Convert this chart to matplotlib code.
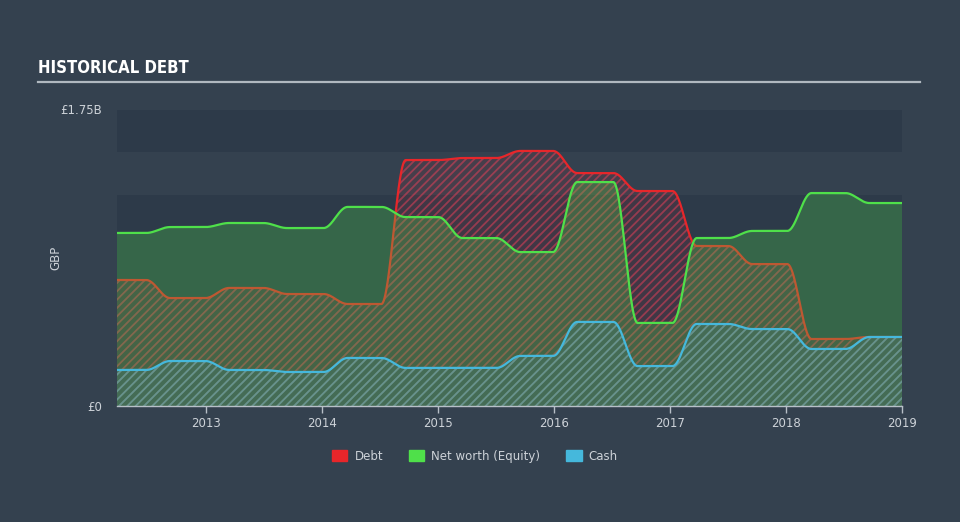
import numpy as np
import matplotlib.pyplot as plt

# half-yearly report dates (decimal years) and values in GBP billions
dates = [2012.23, 2012.69, 2013.20, 2013.70, 2014.22, 2014.72, 2015.21,
         2015.71, 2016.20, 2016.72, 2017.23, 2017.71, 2018.22, 2018.72]
end_date = 2019.0
debt = [0.745, 0.638, 0.698, 0.662, 0.603, 1.454, 1.466,
        1.508, 1.377, 1.271, 0.946, 0.839, 0.396, 0.408]
equity = [1.023, 1.058, 1.082, 1.052, 1.177, 1.117, 0.993,
          0.910, 1.324, 0.491, 0.993, 1.035, 1.259, 1.200]
cash = [0.213, 0.266, 0.213, 0.201, 0.284, 0.225, 0.225,
        0.296, 0.497, 0.236, 0.485, 0.455, 0.337, 0.408]
years = [2013, 2014, 2015, 2016, 2017, 2018, 2019]

bg = "#34414f"
plot_bg = "#2d3a49"
red = "#e8262a"
green = "#4fe04a"
blue = "#45b8dc"
txt = "#cdd2d8"


def smooth(d, v, end, w=0.21):
    # hold each value, ease into the next one just before its date
    t = np.linspace(d[0], end, 3000)
    y = np.full_like(t, v[0])
    for i in range(1, len(d)):
        s = np.clip((t - (d[i] - w)) / w, 0, 1)
        y = y + (v[i] - v[i-1]) * (1 - np.cos(np.pi*s)) / 2
    return t, y


plt.rcParams['hatch.linewidth'] = 1.3

fig = plt.figure(figsize=(9.6, 5.22), dpi=100, facecolor=bg)
ax = fig.add_axes([117/960, 116/522, 785/960, 296/522])
ax.set_facecolor(plot_bg)
ax.set_xlim(dates[0], end_date)
ax.set_ylim(0, 1.75)
ax.axhspan(1.25, 1.5, color=bg, lw=0, zorder=0)

td, yd = smooth(dates, debt, end_date)
te, ye = smooth(dates, equity, end_date)
tc, yc = smooth(dates, cash, end_date)

ax.fill_between(td, 0, yd, facecolor=(0.91, 0.15, 0.16, 0.10),
                edgecolor=(0.88, 0.25, 0.35, 0.55), hatch="////", lw=0, zorder=2)
ax.plot(td, yd, color=red, lw=1.6, zorder=3)
ax.fill_between(te, 0, ye, facecolor=(0.31, 0.88, 0.29, 0.27), lw=0, zorder=4)
ax.plot(te, ye, color=green, lw=1.6, zorder=5)
ax.fill_between(tc, 0, yc, facecolor=(0.27, 0.72, 0.86, 0.10),
                edgecolor=(0.30, 0.75, 0.80, 0.45), hatch="////", lw=0, zorder=6)
ax.plot(tc, yc, color=blue, lw=1.6, zorder=7)

for s in ["top", "right", "left"]:
    ax.spines[s].set_visible(False)
ax.spines["bottom"].set_color("#b8c0c8")
ax.spines["bottom"].set_linewidth(1)
ax.spines["bottom"].set_zorder(8)

ax.set_xticks(years)
ax.set_xticklabels([str(y) for y in years])
ax.tick_params(axis="x", colors="#b8c0c8", labelcolor=txt, length=5,
               width=1, labelsize=8.5, pad=3)
ax.set_yticks([0, 1.75])
ax.set_yticklabels(["£0", "£1.75B"])
ax.tick_params(axis="y", length=0, labelcolor=txt, labelsize=8.5, pad=11)
ax.get_yticklabels()[1].set_verticalalignment("center")
ax.set_ylabel("GBP", color=txt, fontsize=8.5)
ax.yaxis.set_label_coords(-(117 - 62) / 785, 0.5)

fig.text(38/960, 1 - 68/522, "HISTORICAL DEBT", color="white",
         fontsize=12, fontweight="bold", fontstretch="condensed",
         family=["Liberation Sans Narrow", "DejaVu Sans"],
         va="center", ha="left")
fig.add_artist(plt.Line2D([38/960, 920/960], [1 - 82/522, 1 - 82/522],
                          color="#b0b8c0", lw=1.6))

handles = [plt.Rectangle((0, 0), 1, 1, color=c) for c in (red, green, blue)]
leg = fig.legend(handles, ["Debt", "Net worth (Equity)", "Cash"],
                 loc="center", bbox_to_anchor=(475/960, 1 - 456/522), ncol=3,
                 frameon=False, fontsize=8.5, handlelength=1.3,
                 handleheight=1.0, handletextpad=0.6, columnspacing=2.2)
for t in leg.get_texts():
    t.set_color(txt)

fig.savefig("out.png", dpi=100, facecolor=bg)
